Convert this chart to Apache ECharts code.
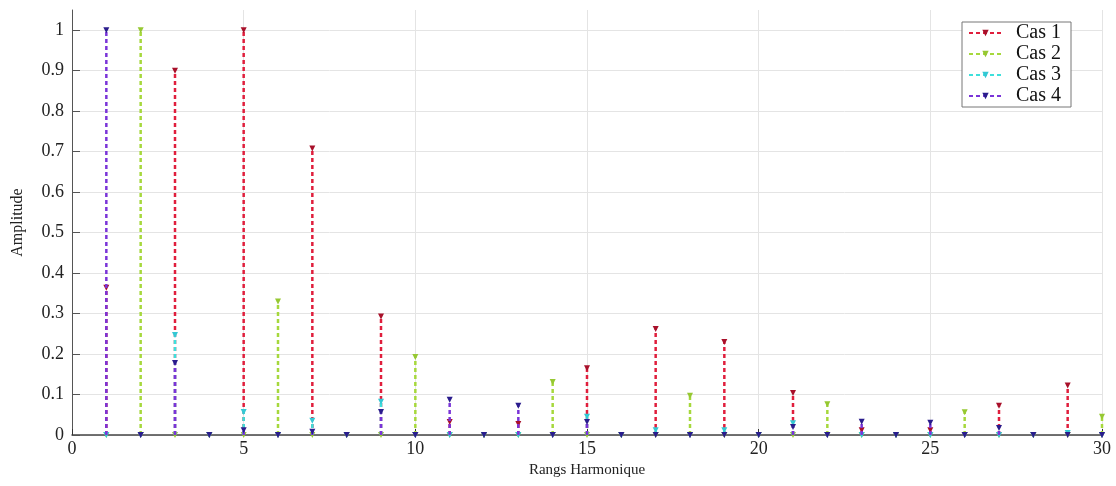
<!DOCTYPE html>
<html><head><meta charset="utf-8">
<script src="https://cdn.jsdelivr.net/npm/echarts@6/dist/echarts.min.js"></script>
<style>html,body{margin:0;padding:0;background:#fff}#c{width:1116px;height:486px}</style>
</head><body><div id="c"></div>
<script>
const harmonics = Array.from({length:30},(_,i)=>i+1);
const seriesNames = ['Cas 1','Cas 2','Cas 3','Cas 4'];
// amplitude by harmonic order 1..30
const cas1 = [0.364,0,0.90,0,1.0,0,0.708,0,0.293,0,0.032,0,0.027,0,0.165,0,0.262,0,0.23,0,0.104,0,0.012,0,0.012,0,0.072,0,0.122,0];
const cas2 = [0,1.0,0,0,0,0.33,0,0,0,0.193,0,0,0,0.131,0,0,0,0.097,0,0,0,0.076,0,0,0,0.056,0,0,0,0.045];
const cas3 = [0,0,0.247,0,0.057,0,0.035,0,0.082,0,0,0,0,0,0.045,0,0.012,0,0.012,0,0.029,0,0,0,0,0,0,0,0.005,0];
const cas4 = [1.0,0,0.178,0,0.012,0,0.008,0,0.057,0,0.087,0,0.072,0,0.032,0,0,0,0,0,0.02,0,0.033,0,0.03,0,0.017,0,0,0];
const xTicks = [0,5,10,15,20,25,30];
const yTicks = [0,0.1,0.2,0.3,0.4,0.5,0.6,0.7,0.8,0.9,1];

const allData = [cas1,cas2,cas3,cas4];
const stemColors = ['#e01e3c','#a6d83c','#3ee0dc','#7a34d8'];
const markColors = ['#a8102a','#96c832','#34c8d4','#2a1c8c'];
const serif = '"Liberation Serif","DejaVu Serif",serif';

function stemData(vals){
  const d=[];
  harmonics.forEach((h,i)=>{
    const v=vals[i];
    if(v>0){ d.push({value:[h,0],symbol:'none'}); d.push([h,v]); }
    else { d.push([h,0]); }
    d.push([h,'-']);
  });
  return d;
}

const series = allData.map((vals,k)=>({
  name: seriesNames[k],
  type:'line',
  data: stemData(vals),
  connectNulls:false,
  showSymbol:true,
  showAllSymbol:true,
  symbol:'triangle',
  symbolRotate:180,
  symbolSize:6,
  lineStyle:{color:stemColors[k],width:2.5,type:[4,3]},
  itemStyle:{color:markColors[k]},
  z: 2+k,
  animation:false,
  silent:true
}));

const chart = echarts.init(document.getElementById('c'));
chart.setOption({
  animation:false,
  grid:{left:72,right:14,top:10,bottom:51},
  legend:{
    data:seriesNames, orient:'vertical', left:962, top:22,
    backgroundColor:'#fff', borderColor:'#777', borderWidth:1,
    padding:[1,10,1,6], itemWidth:33, itemHeight:8, itemGap:1,
    textStyle:{fontFamily:serif,fontSize:20,color:'#111',padding:[0,0,0,9]}
  },
  xAxis:{
    type:'value', min:0, max:30, interval:5,
    name:'Rangs Harmonique', nameLocation:'middle', nameGap:22,
    nameTextStyle:{fontFamily:serif,fontSize:15,color:'#222'},
    axisLine:{lineStyle:{color:'#444',width:1.5}},
    axisTick:{inside:true,length:6,lineStyle:{color:'#333'}},
    axisLabel:{fontFamily:serif,fontSize:18,color:'#222',margin:5,
      customValues:xTicks},
    splitLine:{show:true,lineStyle:{color:'#e4e4e4',width:1}}
  },
  yAxis:{
    type:'value', min:0, max:1.05, interval:0.1,
    name:'Amplitude', nameLocation:'middle', nameGap:46,
    nameTextStyle:{fontFamily:serif,fontSize:16,color:'#222'},
    axisLine:{show:true,lineStyle:{color:'#555',width:1}},
    axisTick:{show:true,inside:true,length:8,lineStyle:{color:'#555'},customValues:yTicks},
    axisLabel:{fontFamily:serif,fontSize:18,color:'#222',margin:8,
      customValues:yTicks, formatter:v=>String(Math.round(v*10)/10)},
    splitLine:{show:true,lineStyle:{color:'#e4e4e4',width:1}}
  },
  series:series
});
</script></body></html>
